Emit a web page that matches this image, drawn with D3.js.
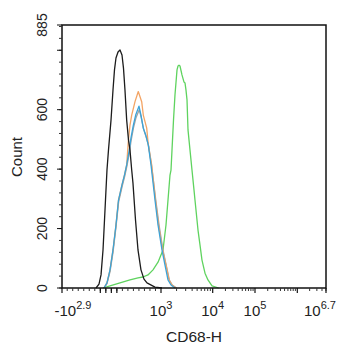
<!DOCTYPE html>
<html>
<head>
<meta charset="utf-8">
<script src="https://cdn.jsdelivr.net/npm/d3@7"></script>
<style>
  body { margin: 0; background: #fff; }
  svg { display: block; font-family: "Liberation Sans", Arial, sans-serif; }
</style>
</head>
<body>
<svg width="342" height="350"></svg>
<script>
// histogram curves, [channel value, count]
var blackCurve = [[-178,0],[-124,13],[-87,44],[-51,128],[-6,296],[21,397],[48,464],[94,565],[130,666],[157,734],[184,774],[221,794],[257,801],[293,784],[320,740],[347,666],[378,565],[411,498],[438,464],[469,397],[492,353],[538,229],[583,128],[637,61],[692,30],[746,17],[891,3],[1045,0]];
var orangeCurve = [[-33,0],[21,17],[76,61],[130,128],[184,212],[230,296],[293,347],[338,380],[378,414],[407,492],[438,548],[469,582],[529,627],[588,661],[650,627],[679,582],[741,538],[770,481],[831,414],[900,296],[955,212],[1070,128],[1250,77],[1430,27],[1630,10],[1950,0]];
var grayCurve = [[-33,0],[21,15],[76,55],[130,120],[184,205],[232,290],[296,342],[342,376],[382,410],[424,452],[460,498],[502,540],[545,572],[605,600],[640,575],[684,535],[728,510],[776,478],[830,410],[905,296],[965,212],[1090,128],[1260,77],[1450,27],[1650,10],[2000,0]];
var blueCurve = [[-33,0],[21,17],[76,61],[130,128],[184,212],[230,296],[293,347],[338,380],[378,414],[420,459],[456,505],[498,547],[541,582],[601,612],[637,582],[679,538],[723,515],[770,481],[819,414],[891,296],[946,212],[1045,128],[1195,77],[1366,27],[1560,10],[1865,0]];
var greenCurve = [[-51,0],[76,7],[257,17],[438,27],[583,34],[674,37],[764,44],[855,61],[946,87],[1093,128],[1249,212],[1366,296],[1493,380],[1561,397],[1632,464],[1745,565],[1865,650],[2041,734],[2133,747],[2230,750],[2330,747],[2546,717],[2786,693],[2913,690],[3044,666],[3185,633],[3330,532],[3640,464],[3975,397],[4346,330],[4542,296],[5196,195],[5678,145],[6205,94],[7100,50],[8100,27],[9700,7],[13850,0]];

var yMax = 885;
var yLabels = [0, 200, 400, 600, 885];
var xLabels = [[-1, 2.9], [1, 3], [1, 4], [1, 5], [1, 6.7]]; // sign, exponent

var svg = d3.select('svg');
var plotL = 62, plotR = 326, plotT = 25, plotB = 288;

// logicle-like axis: linear near zero, log above 10^3
var linX = d3.scaleLinear().domain([-Math.pow(10, 2.9), 1000]).range([plotL, 161]);
var logX = d3.scaleLog().domain([1e3, 1e4, 1e5, 1e6, Math.pow(10, 6.7)]).range([161, 212.7, 255, 297.3, plotR]);
function x(v) { return v <= 1000 ? linX(v) : logX(v); }

var y = d3.scaleLinear().domain([0, yMax]).range([plotB, plotT]);

// curves
var line = d3.line().x(d => x(d[0])).y(d => y(d[1]));
var curves = [
    [greenCurve, '#5fd35f'],
    [grayCurve, '#a3a3a3'],
    [orangeCurve, '#f3a465'],
    [blueCurve, '#3ba3d8'],
    [blackCurve, '#1c1c1c']
];
curves.forEach(function(c) {
    svg.append('path')
        .attr('d', line(c[0]))
        .attr('fill', 'none')
        .attr('stroke', c[1])
        .attr('stroke-width', 1.3)
        .attr('stroke-linejoin', 'round');
});

// frame
svg.append('rect')
    .attr('x', plotL).attr('y', plotT)
    .attr('width', plotR - plotL).attr('height', plotB - plotT)
    .attr('fill', 'none').attr('stroke', '#111').attr('stroke-width', 1.5);

// y ticks
var yMinor = d3.range(0, yMax + 1, 40);
svg.selectAll('.ymin').data(yMinor).enter().append('line')
    .attr('x1', plotL - 3).attr('x2', plotL)
    .attr('y1', d => y(d)).attr('y2', d => y(d))
    .attr('stroke', '#333');
svg.selectAll('.ymaj').data([0, 200, 400, 600, 800, 885]).enter().append('line')
    .attr('x1', plotL - 5).attr('x2', plotL)
    .attr('y1', d => y(d)).attr('y2', d => y(d))
    .attr('stroke', '#111');
svg.selectAll('.ylab').data(yLabels).enter().append('text')
    .attr('transform', d => 'translate(47,' + y(d) + ') rotate(-90)')
    .attr('text-anchor', 'middle')
    .style('font-size', '14px')
    .attr('fill', '#222')
    .text(d => d);

svg.append('text')
    .attr('transform', 'translate(22,157) rotate(-90)')
    .attr('text-anchor', 'middle')
    .style('font-size', '15px')
    .attr('fill', '#222')
    .text('Count');

// x ticks
var xMinor = d3.range(-700, 1000, 100);
[3, 4, 5, 6].forEach(function(e) {
    for (var k = 2; k <= 9; k++) {
        var v = k * Math.pow(10, e);
        if (v < Math.pow(10, 6.7)) xMinor.push(v);
    }
});
svg.selectAll('.xmin').data(xMinor).enter().append('line')
    .attr('x1', d => x(d)).attr('x2', d => x(d))
    .attr('y1', plotB).attr('y2', plotB + 3)
    .attr('stroke', '#333');
var xMajor = [-Math.pow(10, 2.9), -100, 0, 100, 200, 1e3, 1e4, 1e5, 1e6, Math.pow(10, 6.7)];
svg.selectAll('.xmaj').data(xMajor).enter().append('line')
    .attr('x1', d => x(d)).attr('x2', d => x(d))
    .attr('y1', plotB).attr('y2', plotB + 5)
    .attr('stroke', '#111').attr('stroke-width', 1.2);

var xl = svg.selectAll('.xlab').data(xLabels).enter().append('text')
    .attr('x', function(d, i) {
        var px = x(d[0] * Math.pow(10, d[1]));
        if (i === 0) return px + 11;
        if (i === xLabels.length - 1) return px - 6;
        return px;
    })
    .attr('y', 316)
    .attr('text-anchor', 'middle')
    .attr('fill', '#222')
    .style('font-size', '15px');
xl.append('tspan').text(d => (d[0] < 0 ? '-' : '') + '10');
xl.append('tspan').attr('dy', -7).style('font-size', '11px').text(d => d[1]);

svg.append('text')
    .attr('x', (plotL + plotR) / 2).attr('y', 342)
    .attr('text-anchor', 'middle')
    .style('font-size', '15.5px')
    .attr('fill', '#222')
    .text('CD68-H');
</script>
</body>
</html>
